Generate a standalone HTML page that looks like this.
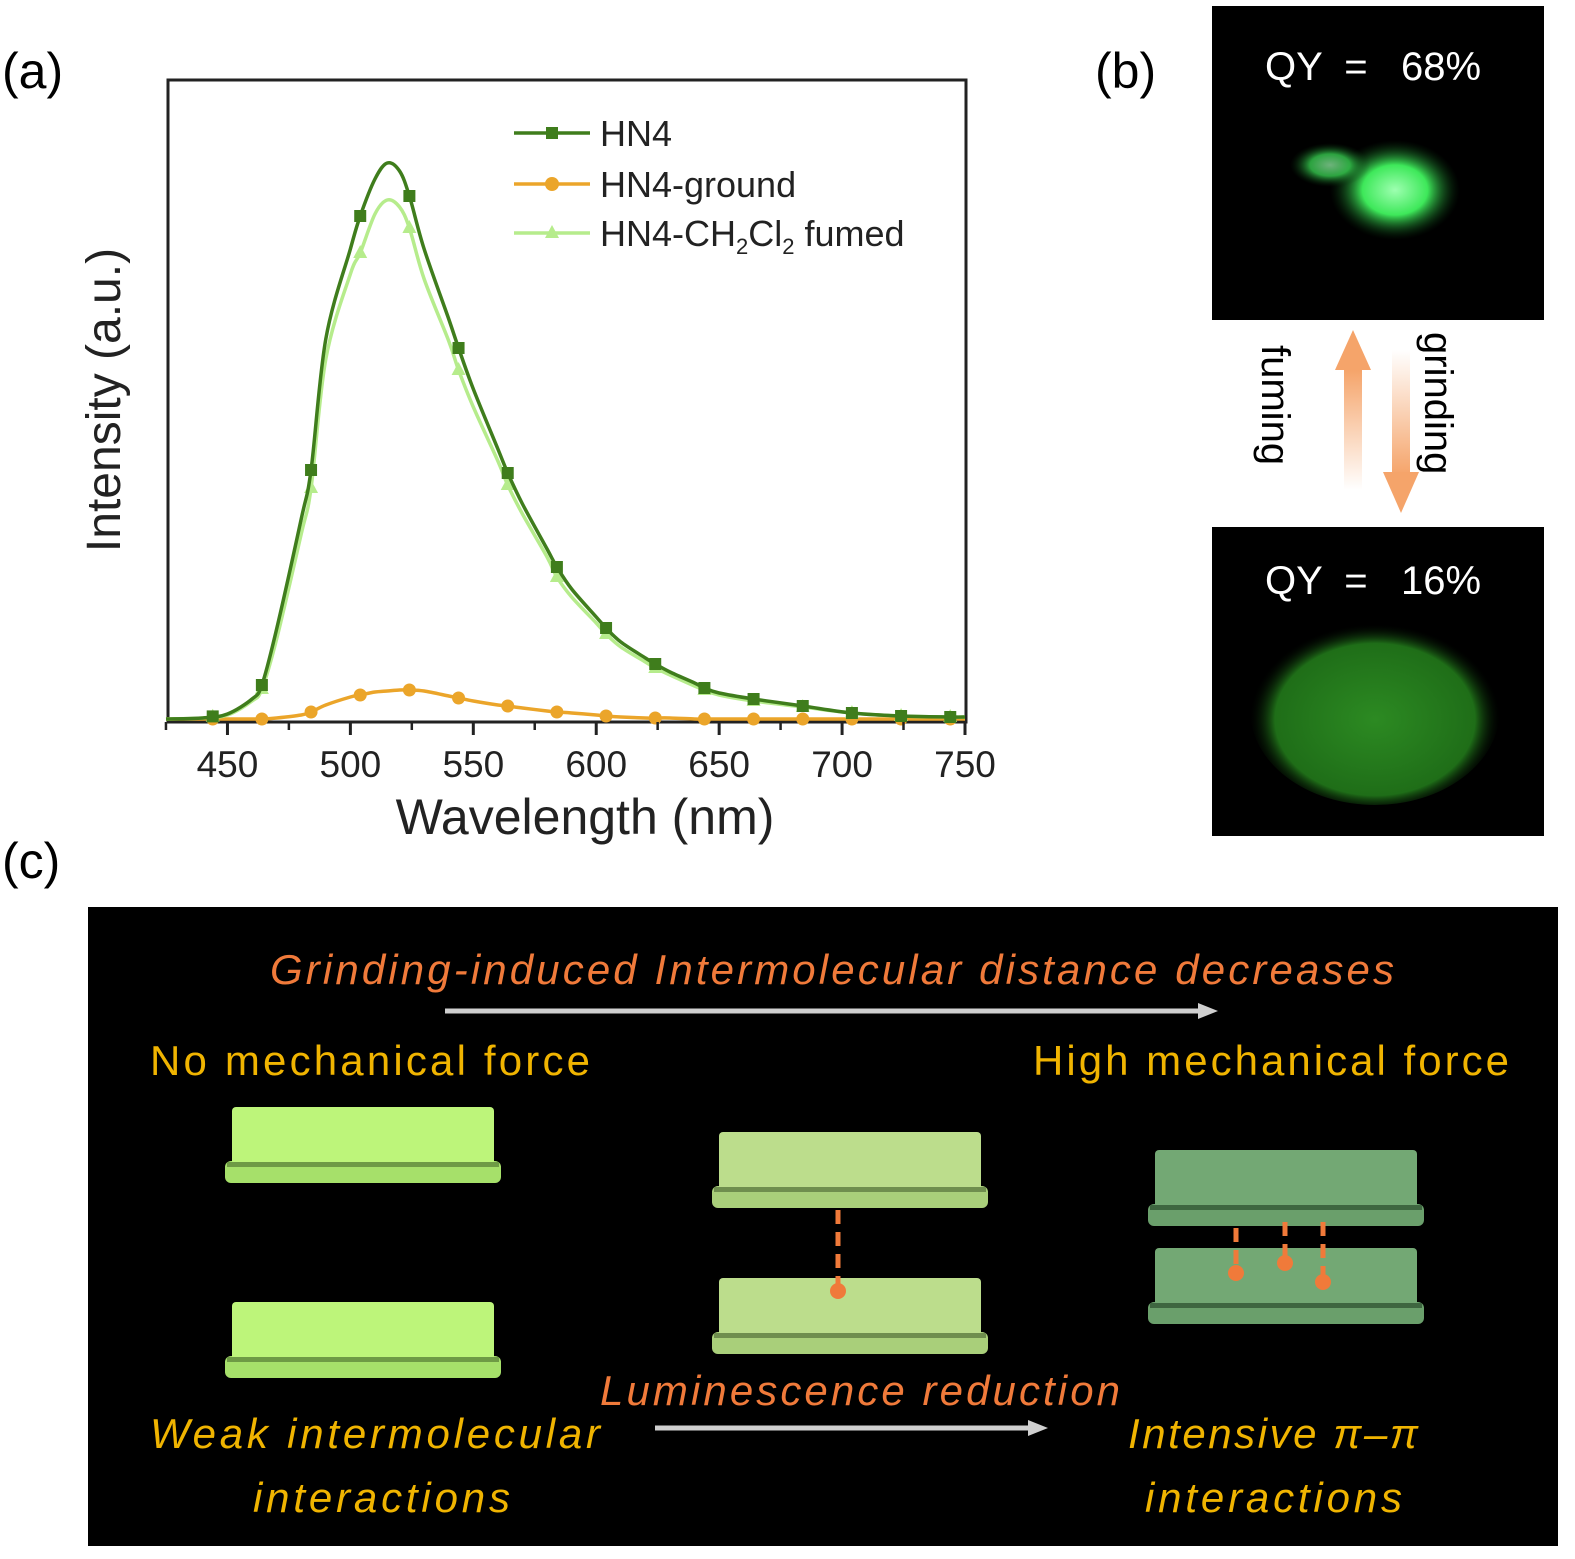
<!DOCTYPE html>
<html><head><meta charset="utf-8"><style>
html,body{margin:0;padding:0;background:#fff}
svg{display:block}
text{font-family:"Liberation Sans",sans-serif;white-space:pre}
</style></head><body>
<svg id="fig" width="1575" height="1559" viewBox="0 0 1575 1559" xmlns="http://www.w3.org/2000/svg">
<defs>
<radialGradient id="glow1" cx="0.5" cy="0.5" r="0.5"><stop offset="0" stop-color="#9dffb0"/><stop offset="0.5" stop-color="#3ee85a"/><stop offset="1" stop-color="#0a3a10" stop-opacity="0"/></radialGradient>
<radialGradient id="glow2" cx="0.5" cy="0.55" r="0.5"><stop offset="0" stop-color="#2c8a22"/><stop offset="0.8" stop-color="#1f6e18"/><stop offset="1" stop-color="#041204" stop-opacity="0"/></radialGradient>
<linearGradient id="up" x1="0" y1="1" x2="0" y2="0"><stop offset="0" stop-color="#f5a46a" stop-opacity="0"/><stop offset="1" stop-color="#f5a46a"/></linearGradient>
<linearGradient id="down" x1="0" y1="0" x2="0" y2="1"><stop offset="0" stop-color="#f5a46a" stop-opacity="0"/><stop offset="1" stop-color="#f5a46a"/></linearGradient>
</defs>
<text x="2" y="88" font-size="50">(a)</text>
<text x="1095" y="88" font-size="50">(b)</text>
<text x="2" y="878" font-size="50">(c)</text>
<g id="chart"></g>
<!-- panel b -->
<g>
<rect x="1212" y="6" width="332" height="314" fill="#000"/>
<ellipse cx="1395" cy="190" rx="65" ry="50" fill="url(#glow1)"/>
<ellipse cx="1330" cy="165" rx="40" ry="22" fill="url(#glow1)" opacity="0.7"/>
<text x="1265" y="80" font-size="40" fill="#fff">QY  =   68%</text>
</g>
<g>
<rect x="1212" y="527" width="332" height="309" fill="#000"/>
<ellipse cx="1375" cy="710" rx="125" ry="95" fill="url(#glow2)"/>
<text x="1265" y="594" font-size="40" fill="#fff">QY  =   16%</text>
</g>
<g>
<rect x="1344" y="370" width="18" height="120" fill="url(#up)"/>
<polygon points="1335,370 1371,370 1353,330" fill="#f5a46a"/>
</g>
<g>
<rect x="1392" y="350" width="18" height="125" fill="url(#down)"/>
<polygon points="1383,472 1419,472 1401,513" fill="#f5a46a"/>
</g>
<text transform="translate(1262,345) rotate(90)" font-size="40">fuming</text>
<text transform="translate(1425,332) rotate(90)" font-size="40">grinding</text>
<!-- panel c -->
<g>
<rect x="88" y="907" width="1470" height="639" fill="#000"/>
<text x="270" y="984" font-size="42" font-style="italic" fill="#f07a3a" textLength="1124">Grinding-induced Intermolecular distance decreases</text>
<line x1="445" y1="1011" x2="1200" y2="1011" stroke="#cfcfcf" stroke-width="5"/>
<polygon points="1198,1003 1218,1011 1198,1019" fill="#cfcfcf"/>
<text x="150" y="1075" font-size="42" fill="#f0b400" textLength="440">No mechanical force</text>
<text x="1033" y="1075" font-size="42" fill="#f0b400" textLength="476">High mechanical force</text>
<g id="slabs"></g>
<text x="600" y="1405" font-size="42" font-style="italic" fill="#f07a3a" textLength="520">Luminescence reduction</text>
<line x1="655" y1="1428" x2="1030" y2="1428" stroke="#cfcfcf" stroke-width="5"/>
<polygon points="1028,1420 1048,1428 1028,1436" fill="#cfcfcf"/>
<text x="150" y="1448" font-size="42" font-style="italic" fill="#f0b400" textLength="450">Weak intermolecular</text>
<text x="253" y="1512" font-size="42" font-style="italic" fill="#f0b400" textLength="257">interactions</text>
<text x="1128" y="1448" font-size="42" font-style="italic" fill="#f0b400" textLength="290">Intensive π–π</text>
<text x="1145" y="1512" font-size="42" font-style="italic" fill="#f0b400" textLength="257">interactions</text>
</g>
</svg>
<script>
const wavelengths=[425,440,450,460,464,470,480,484,490,500,504,510,515,520,524,530,540,544,550,560,564,570,580,584,590,600,604,610,620,624,630,640,644,650,664,684,704,724,744,750];
const hn4=[0,1,5,20,34,90,200,249,380,470,503,540,556,548,523,470,400,371,330,270,246,215,170,152,130,102,91,77,61,55,47,36,31,26,20,13,6,3,2,2];
const fumed=[0,1,4,18,30,80,185,231,360,445,466,505,519,512,491,440,378,349,312,258,234,205,162,142,122,96,85,72,57,51,44,33,29,24,18,12,6,3,2,2];
const ground=[0,0,0,0,0,1,4,7,14,22,24,27,28,29,29,28,23,21,18,14,13,11,8,7,6,4,3,2,1,1,1,0,0,0,0,0,0,0,0,0];
const markerWl=[444,464,484,504,524,544,564,584,604,624,644,664,684,704,724,744];
const xTicks=[450,500,550,600,650,700,750];
const NS='http://www.w3.org/2000/svg';
const X0=166,X1=965,Y0=719,YT=163;
const xS=w=>X0+(w-425)/(750-425)*(X1-X0);
const yS=v=>Y0-v/556*(Y0-YT);
function interp(arr,w){for(let i=0;i<wavelengths.length-1;i++){if(w>=wavelengths[i]&&w<=wavelengths[i+1]){const t=(w-wavelengths[i])/(wavelengths[i+1]-wavelengths[i]);return arr[i]+(arr[i+1]-arr[i])*t;}}return arr[arr.length-1];}
function mk(tag,attrs,parent){const e=document.createElementNS(NS,tag);for(const k in attrs)e.setAttribute(k,attrs[k]);parent.appendChild(e);return e;}
const g=document.getElementById('chart');
const frame=mk('rect',{x:168,y:80,width:798,height:642,fill:'none',stroke:'#222','stroke-width':3},g);


function pathOf(arr){const p=wavelengths.map((w,i)=>[xS(w),yS(arr[i])]);let d='M'+p[0][0]+','+p[0][1];for(let i=0;i<p.length-1;i++){const a=p[Math.max(0,i-1)],b=p[i],c=p[i+1],e=p[Math.min(p.length-1,i+2)];const c1=[b[0]+(c[0]-a[0])/6,b[1]+(c[1]-a[1])/6],c2=[c[0]-(e[0]-b[0])/6,c[1]-(e[1]-b[1])/6];d+=` C${c1[0]},${c1[1]} ${c2[0]},${c2[1]} ${c[0]},${c[1]}`;}return d;}
const series=[[ground,'#eba52a','circle','series-hn4-ground'],[fumed,'#b6ec8c','tri','series-hn4-fumed'],[hn4,'#3f7d1c','sq','series-hn4']];
series.forEach(([arr,col,shape,name])=>{
 const sg=mk('g',{},g);
 
 
 mk('path',{d:pathOf(arr),fill:'none',stroke:col,'stroke-width':3.5},sg);
 markerWl.forEach(w=>{const x=xS(w),y=yS(interp(arr,w));let m;
  if(shape==='sq')m=mk('rect',{x:x-6,y:y-6,width:12,height:12,fill:col},sg);
  else if(shape==='circle')m=mk('circle',{cx:x,cy:y,r:6.5,fill:col},sg);
  else m=mk('polygon',{points:`${x},${y-8} ${x-7},${y+5} ${x+7},${y+5}`,fill:col},sg);
  
  });
});
xTicks.forEach(t=>{const x=xS(t);
 const tk=mk('line',{x1:x,y1:722,x2:x,y2:735,stroke:'#222','stroke-width':3},g);
 
 
 const lb=mk('text',{x:x,y:777,'font-size':37,'text-anchor':'middle',fill:'#222'},g);lb.textContent=t;
 
 
 const m=mk('line',{x1:x-61.5,y1:722,x2:x-61.5,y2:730,stroke:'#222','stroke-width':2.5},g);
 
 
});
const xt=mk('text',{x:585,y:834,'font-size':50,'text-anchor':'middle',fill:'#222'},g);xt.textContent='Wavelength (nm)';


const yt=mk('text',{transform:'translate(120,400) rotate(-90)','font-size':48,'text-anchor':'middle',fill:'#222'},g);yt.textContent='Intensity (a.u.)';


const legend=[['HN4','#3f7d1c','sq',133],['HN4-ground','#eba52a','circle',184],['HN4-CH₂Cl₂ fumed','#b6ec8c','tri',233]];
legend.forEach(([lab,col,shape,y])=>{const lg=mk('g',{},g);
 
 
 mk('line',{x1:514,y1:y,x2:590,y2:y,stroke:col,'stroke-width':3.5},lg);
 if(shape==='sq')mk('rect',{x:546,y:y-6,width:12,height:12,fill:col},lg);
 else if(shape==='circle')mk('circle',{cx:552,cy:y,r:7,fill:col},lg);
 else mk('polygon',{points:`552,${y-8} 545,${y+5} 559,${y+5}`,fill:col},lg);
 const t=mk('text',{x:600,y:y+13,'font-size':36,fill:'#222'},lg);
 if(lab.indexOf('₂')>0){t.innerHTML='HN4-CH<tspan font-size="22" dy="8">2</tspan><tspan dy="-8">Cl</tspan><tspan font-size="22" dy="8">2</tspan><tspan dy="-8"> fumed</tspan>';}else t.textContent=lab;
});
const sg=document.getElementById('slabs');
function slab(x,y,w,top,rim,dark){const s=mk('g',{},sg);
 
 
 mk('rect',{x:x-7,y:y+54,width:w+14,height:22,rx:6,fill:rim},s);
 mk('rect',{x:x,y:y,width:w,height:58,rx:4,fill:top},s);
 mk('rect',{x:x-5,y:y+55,width:w+10,height:5,fill:dark},s);}
slab(232,1107,262,'#bdf57a','#a6e06a','#6e9a45');
slab(232,1302,262,'#bdf57a','#a6e06a','#6e9a45');
slab(719,1132,262,'#bcdd8c','#a9cf7a','#6f8e4e');
slab(719,1278,262,'#bcdd8c','#a9cf7a','#6f8e4e');
slab(1155,1150,262,'#73a874','#6a9f6b','#3e6640');
slab(1155,1248,262,'#73a874','#6a9f6b','#3e6640');
function bond(x,y1,y2){const b=mk('g',{},sg);
 
 
 mk('line',{x1:x,y1:y1,x2:x,y2:y2,stroke:'#f07a3a','stroke-width':5,'stroke-dasharray':'14,8'},b);
 mk('circle',{cx:x,cy:y2,r:8,fill:'#f07a3a'},b);}
bond(838,1210,1291);
bond(1236,1228,1273);
bond(1285,1222,1263);
bond(1323,1222,1282);
</script>
</body></html>
